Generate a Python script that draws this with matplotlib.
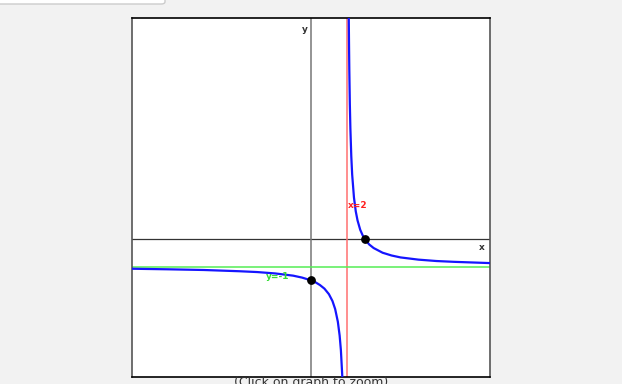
"""
Graph of y = (3 - x)/(x - 2) with its asymptotes x=2 and y=-1.
"""
import matplotlib.pyplot as plt
from matplotlib.patches import FancyBboxPatch

# curve points (left and right branch)
left_x = [-10, -8, -6, -4, -3, -2, -1, -0.5, 0, 0.25, 0.5, 0.75, 1, 1.2,
          1.35, 1.5, 1.6, 1.67, 1.75]
left_y = [-1.08, -1.1, -1.125, -1.17, -1.2, -1.25, -1.33, -1.4, -1.5, -1.57,
          -1.67, -1.8, -2, -2.25, -2.54, -3, -3.5, -4.03, -5]
right_x = [2.11, 2.125, 2.14, 2.17, 2.2, 2.25, 2.3, 2.4, 2.5, 2.6, 2.75, 2.9,
           3, 3.25, 3.5, 4, 4.5, 5, 6, 7, 8, 10]
right_y = [8, 7, 6.14, 4.88, 4, 3, 2.33, 1.5, 1, 0.67, 0.33, 0.11, 0, -0.2,
           -0.33, -0.5, -0.6, -0.67, -0.75, -0.8, -0.83, -0.875]

# marked points (intercepts)
dot_x = [3, 0]
dot_y = [0, -1.5]

v_asym = 2
h_asym = -1
x_range = (-10, 10)
y_range = (-5, 8)

W, H = 622, 384
fig = plt.figure(figsize=(W / 100, H / 100), dpi=100)
fig.patch.set_facecolor("#f2f2f2")

# the box cut off at the top left of the page
fig.patches.append(FancyBboxPatch((-10 / W, 1 - 4 / H), 175 / W, 20 / H,
                                  boxstyle="round,pad=0,rounding_size=0.006",
                                  transform=fig.transFigure, facecolor="white",
                                  edgecolor="#cccccc", linewidth=1))

ax = fig.add_axes([132 / W, 7 / H, 358 / W, 359 / H])
ax.set_xlim(*x_range)
ax.set_ylim(*y_range)
ax.set_facecolor("white")
ax.set_xticks([])
ax.set_yticks([])
for side in ["top", "bottom"]:
    ax.spines[side].set_color("black")
for side in ["left", "right"]:
    ax.spines[side].set_color("#555555")
for s in ax.spines.values():
    s.set_linewidth(1.2)

# coordinate axes
ax.axhline(0, color="#333333", lw=0.9, zorder=1)
ax.axvline(0, color="#777777", lw=1.1, zorder=1)

# asymptotes
ax.axvline(v_asym, color="#ff7070", lw=1.1, zorder=2)
ax.axhline(h_asym, color="#55ee55", lw=1.1, zorder=2)

ax.plot(left_x, left_y, color="#1515ff", lw=1.6, zorder=3)
ax.plot(right_x, right_y, color="#1515ff", lw=1.6, zorder=3)
ax.scatter(dot_x, dot_y, s=28, color="black", zorder=4)

fkw = dict(fontsize=6.5, fontweight="bold", family="DejaVu Sans")
ax.text(-0.2, 7.6, "y", ha="right", va="center", color="#333333", **fkw)
ax.text(9.7, -0.3, "x", ha="right", va="center", color="#333333", **fkw)
ax.text(2.05, 1.2, "x=2", ha="left", va="center", color="#ff2020", **fkw)
ax.text(-2.5, -1.35, "y=-1", ha="left", va="center", color="#33dd33", **fkw)

fig.text(311 / W, -5 / H, "(Click on graph to zoom)", ha="center",
         va="bottom", fontsize=9, color="#333333")

fig.savefig("out.png", dpi=100, facecolor=fig.get_facecolor())
